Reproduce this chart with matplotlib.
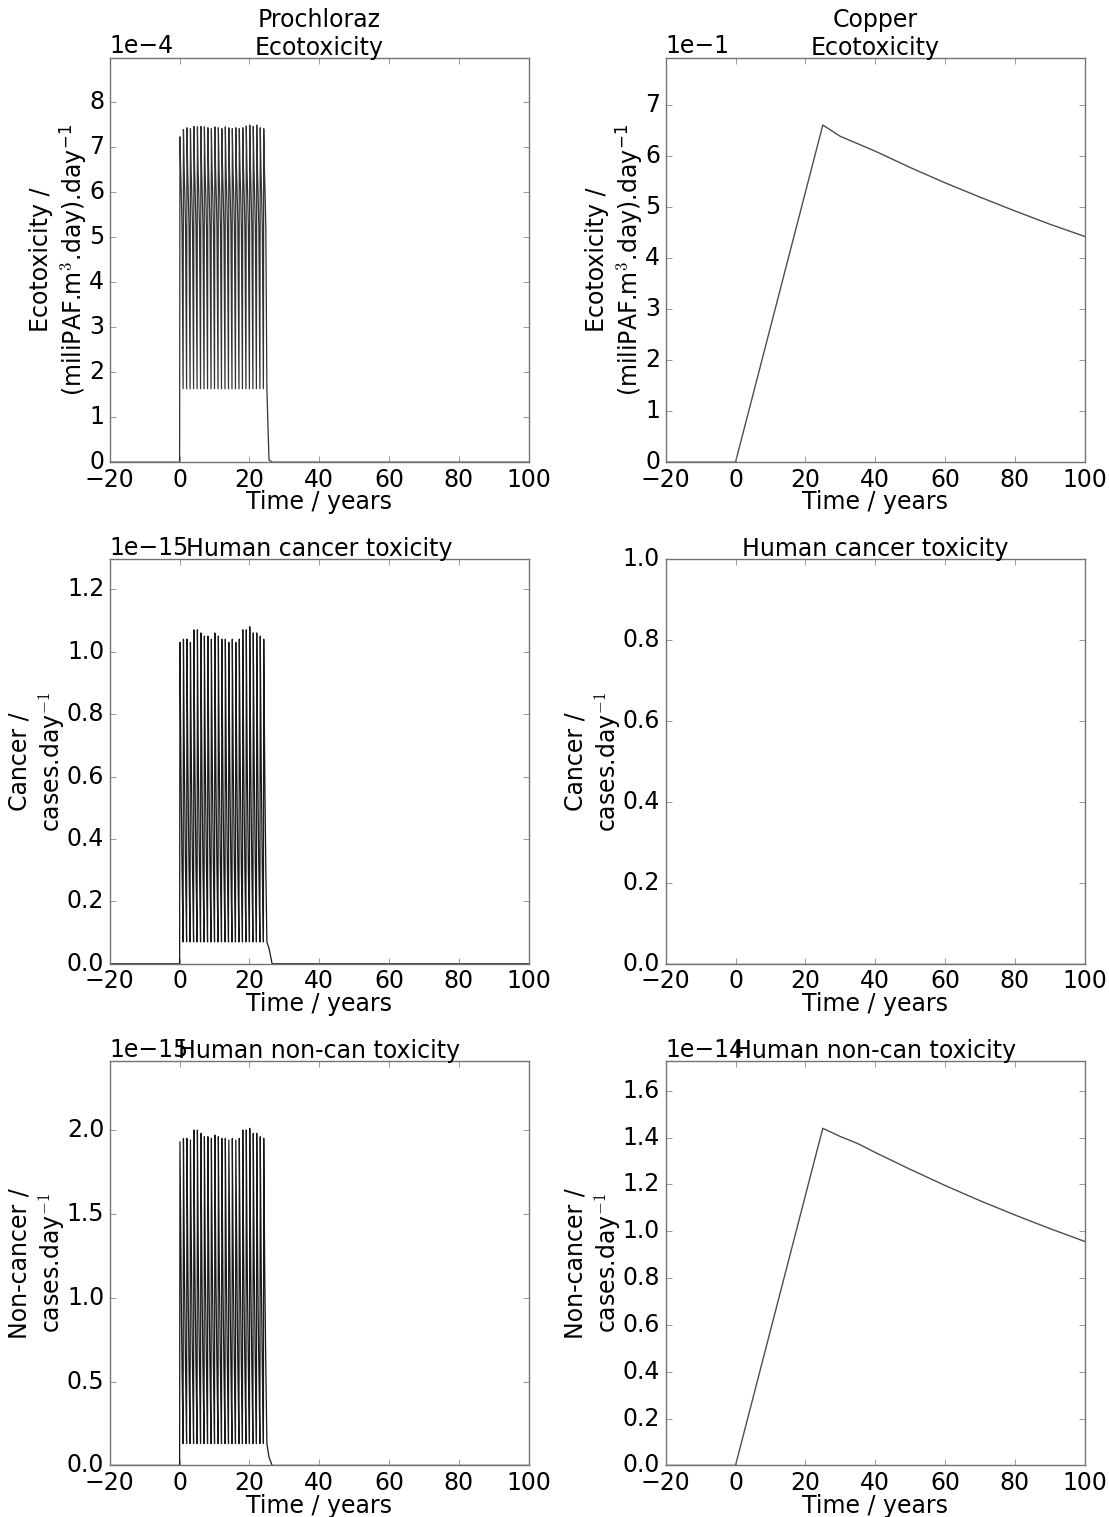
import numpy as np
import matplotlib
matplotlib.use('Agg')
import matplotlib.pyplot as plt

plt.style.use('classic')
plt.rcParams['figure.facecolor'] = 'white'
plt.rcParams['savefig.facecolor'] = 'white'
plt.rcParams['font.size'] = 17
plt.rcParams['axes.titlesize'] = 17
plt.rcParams['axes.edgecolor'] = '0.45'
plt.rcParams['xtick.color'] = '0.45'
plt.rcParams['ytick.color'] = '0.45'
plt.rcParams['xtick.labelcolor'] = 'black'
plt.rcParams['ytick.labelcolor'] = 'black'

# Prochloraz: one application peak per year for 25 years
proc_years = list(range(25))
proc_eco_peak = [7.22, 7.38, 7.42, 7.40, 7.45, 7.44, 7.45, 7.44, 7.42, 7.40, 7.44, 7.42, 7.40,
                 7.44, 7.42, 7.40, 7.42, 7.40, 7.42, 7.46, 7.48, 7.45, 7.48, 7.42, 7.40]
proc_eco_trough = 1.63
proc_eco_bands = [6.5, 5.9, 5.2]

proc_can_peak = [1.03, 1.04, 1.04, 1.03, 1.07, 1.07, 1.06, 1.05, 1.05, 1.04, 1.06, 1.05, 1.04,
                 1.04, 1.03, 1.04, 1.03, 1.04, 1.07, 1.07, 1.08, 1.06, 1.06, 1.05, 1.04]
proc_can_trough = 0.07
proc_can_bands = [0.82, 0.60, 0.45, 0.30]

proc_nc_peak = [1.93, 1.95, 1.95, 1.94, 2.00, 2.00, 1.98, 1.96, 1.96, 1.95, 1.97, 1.96, 1.95,
                1.95, 1.94, 1.95, 1.94, 1.95, 2.00, 2.00, 2.01, 1.98, 1.98, 1.96, 1.95]
proc_nc_trough = 0.13
proc_nc_bands = [1.55, 1.12, 0.85, 0.58]

# Copper: build-up over 25 years of application, then slow decline
cu_eco_t = [-20, 0, 5, 10, 15, 20, 25, 30, 40, 50, 60, 70, 80, 90, 100]
cu_eco_v = [0, 0, 1.32, 2.64, 3.96, 5.28, 6.60, 6.38, 6.09, 5.77, 5.47, 5.19, 4.92, 4.66, 4.42]

cu_can_t = [-20, 100]
cu_can_v = [0, 0]

cu_nc_t = [-20, 0, 5, 10, 15, 20, 25, 30, 35, 40, 50, 60, 70, 80, 90, 100]
cu_nc_v = [0, 0, 0.288, 0.576, 0.864, 1.152, 1.44, 1.405, 1.375, 1.337, 1.265, 1.196, 1.131,
           1.070, 1.012, 0.957]


def pulse_series(peaks, trough, bands):
    # stitch yearly pulses: rise to peak, fall through the band levels, back to trough
    t = [-20, 0]
    v = [0, 0]
    offs = np.linspace(0.1, 0.7, len(bands) + 1)[1:]
    for yr, pk in zip(proc_years, peaks):
        t.append(yr + 0.1)
        v.append(pk)
        for o, b in zip(offs, bands):
            t.append(yr + o)
            v.append(b)
        t.append(yr + 1.0)
        v.append(trough)
    t += [25.6, 26.5, 100]
    v += [0.05, 0, 0]
    return np.array(t), np.array(v)


fig, axes = plt.subplots(3, 2, figsize=(11.09, 15.17), dpi=100)
plt.subplots_adjust(left=0.099, right=0.978, top=0.962, bottom=0.034, wspace=0.327, hspace=0.24)

eco_label = 'Ecotoxicity /\n(miliPAF.m$^3$.day).day$^{\\mathregular{-1}}$'
can_label = 'Cancer /\ncases.day$^{-1}$'
nc_label = 'Non-cancer /\ncases.day$^{-1}$'

# Prochloraz column
t, v = pulse_series(proc_eco_peak, proc_eco_trough, proc_eco_bands)
ax = axes[0, 0]
ax.plot(t, v * 1e-4, color='0.2', lw=0.9)
ax.set_ylim(0, 1.2 * max(proc_eco_peak) * 1e-4)
ax.set_title('Prochloraz\nEcotoxicity', pad=2)
ax.set_ylabel(eco_label, labelpad=0)

t, v = pulse_series(proc_can_peak, proc_can_trough, proc_can_bands)
ax = axes[1, 0]
ax.plot(t, v * 1e-15, color='0.1', lw=0.9)
ax.set_ylim(0, 1.2 * max(proc_can_peak) * 1e-15)
ax.set_title('Human cancer toxicity', pad=2)
ax.set_ylabel(can_label, labelpad=0)

t, v = pulse_series(proc_nc_peak, proc_nc_trough, proc_nc_bands)
ax = axes[2, 0]
ax.plot(t, v * 1e-15, color='0.1', lw=0.9)
ax.set_ylim(0, 1.2 * max(proc_nc_peak) * 1e-15)
ax.set_title('Human non-can toxicity', pad=2)
ax.set_ylabel(nc_label, labelpad=0)

# Copper column
ax = axes[0, 1]
ax.plot(cu_eco_t, np.array(cu_eco_v) * 1e-1, color='0.3', lw=1.0)
ax.set_ylim(0, 1.2 * max(cu_eco_v) * 1e-1)
ax.set_title('Copper\nEcotoxicity', pad=2)
ax.set_ylabel(eco_label, labelpad=0)

ax = axes[1, 1]
ax.plot(cu_can_t, cu_can_v, color='0.3', lw=1.0)
ax.set_ylim(0, 1)
ax.set_title('Human cancer toxicity', pad=2)
ax.set_ylabel(can_label, labelpad=0)

ax = axes[2, 1]
ax.plot(cu_nc_t, np.array(cu_nc_v) * 1e-14, color='0.3', lw=1.0)
ax.set_ylim(0, 1.2 * max(cu_nc_v) * 1e-14)
ax.set_title('Human non-can toxicity', pad=2)
ax.set_ylabel(nc_label, labelpad=0)

for i, ax in enumerate(axes.flat):
    ax.set_xlim(-20, 100)
    ax.set_xlabel('Time / years', labelpad=-1)
    ax.tick_params(labelsize=17)
    if i != 3:
        ax.ticklabel_format(axis='y', style='sci', scilimits=(0, 0))
    ax.yaxis.get_offset_text().set_fontsize(17)

plt.savefig('out.png', dpi=100)
